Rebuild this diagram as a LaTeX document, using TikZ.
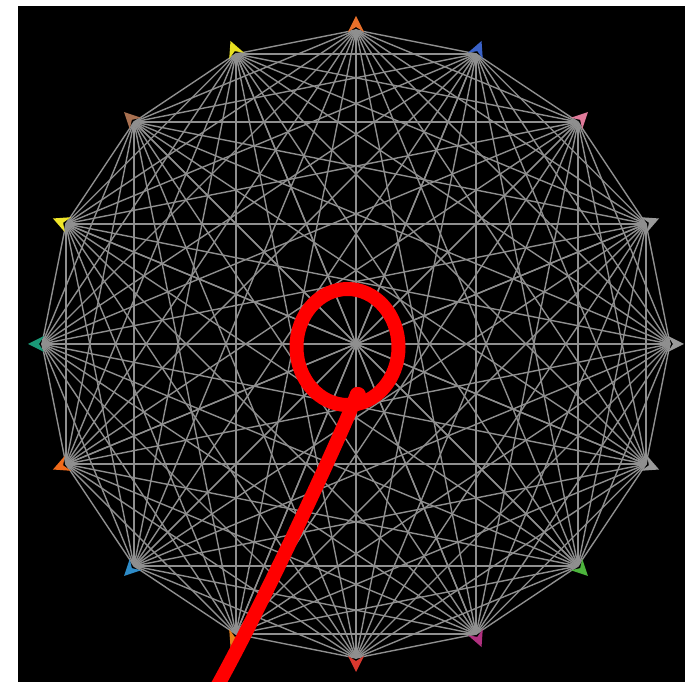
\documentclass[tikz,border=0pt]{standalone}
\definecolor{edgegray}{HTML}{8F8F8F}
\definecolor{m0}{HTML}{E8702A}
\definecolor{m1}{HTML}{3A62C8}
\definecolor{m2}{HTML}{E07A9A}
\definecolor{m3}{HTML}{9A9A9A}
\definecolor{m6}{HTML}{4CB43C}
\definecolor{m7}{HTML}{B0307F}
\definecolor{m8}{HTML}{D8382E}
\definecolor{m9}{HTML}{E8801A}
\definecolor{m10}{HTML}{2E8CC8}
\definecolor{m11}{HTML}{F06A1A}
\definecolor{m12}{HTML}{1A9A78}
\definecolor{m13}{HTML}{F0E62A}
\definecolor{m14}{HTML}{A87050}
\definecolor{m15}{HTML}{E8E020}
\definecolor{annot}{HTML}{FF0000}
\begin{document}
\begin{tikzpicture}[x=1pt,y=1pt,
  edge/.style={draw=edgegray,line width=1.4pt},
  marker/.style={line width=0pt},
  annotstroke/.style={draw=annot,line width=14pt,line cap=round,line join=round}]
\useasboundingbox (0,0) rectangle (685,682);
\fill[white] (0,0) rectangle (685,682);
\fill[black] (18,0) rectangle (685,676);
\coordinate (c) at (356,338);
\begin{scope}[shift={(356,338)}]
\foreach \k in {0,...,15}{
  \coordinate (v\k) at ({90-22.5*\k}:314);
}
\end{scope}
\foreach \i in {0,...,14}{
  \pgfmathtruncatemacro\s{\i+1}
  \foreach \j in {\s,...,15}{
    \draw[edge] (v\i) -- (v\j);
  }
}
\foreach \k in {0,...,15}{
  \draw[edge] (c) -- (v\k);
}
\foreach \k/\col in {0/m0,1/m1,2/m2,3/m3,4/m3,5/m3,6/m6,7/m7,8/m8,9/m9,10/m10,11/m11,12/m12,13/m13,14/m14,15/m15}{
  \fill[\col,marker,shift={(v\k)},rotate={90-22.5*\k}] (14,0) -- (-2,8) -- (3,0) -- (-2,-8) -- cycle;
}
\coordinate (loopc) at (347.5,335);
\coordinate (tailstart) at (357,288);
\coordinate (tailend) at (214,-10);
\draw[annotstroke] (loopc) ellipse [x radius=51, y radius=58];
\draw[annotstroke] (tailstart) .. controls (345,255) and (262,75) .. (tailend);
\fill[annot] (358,287) circle (8);
\end{tikzpicture}
\end{document}
